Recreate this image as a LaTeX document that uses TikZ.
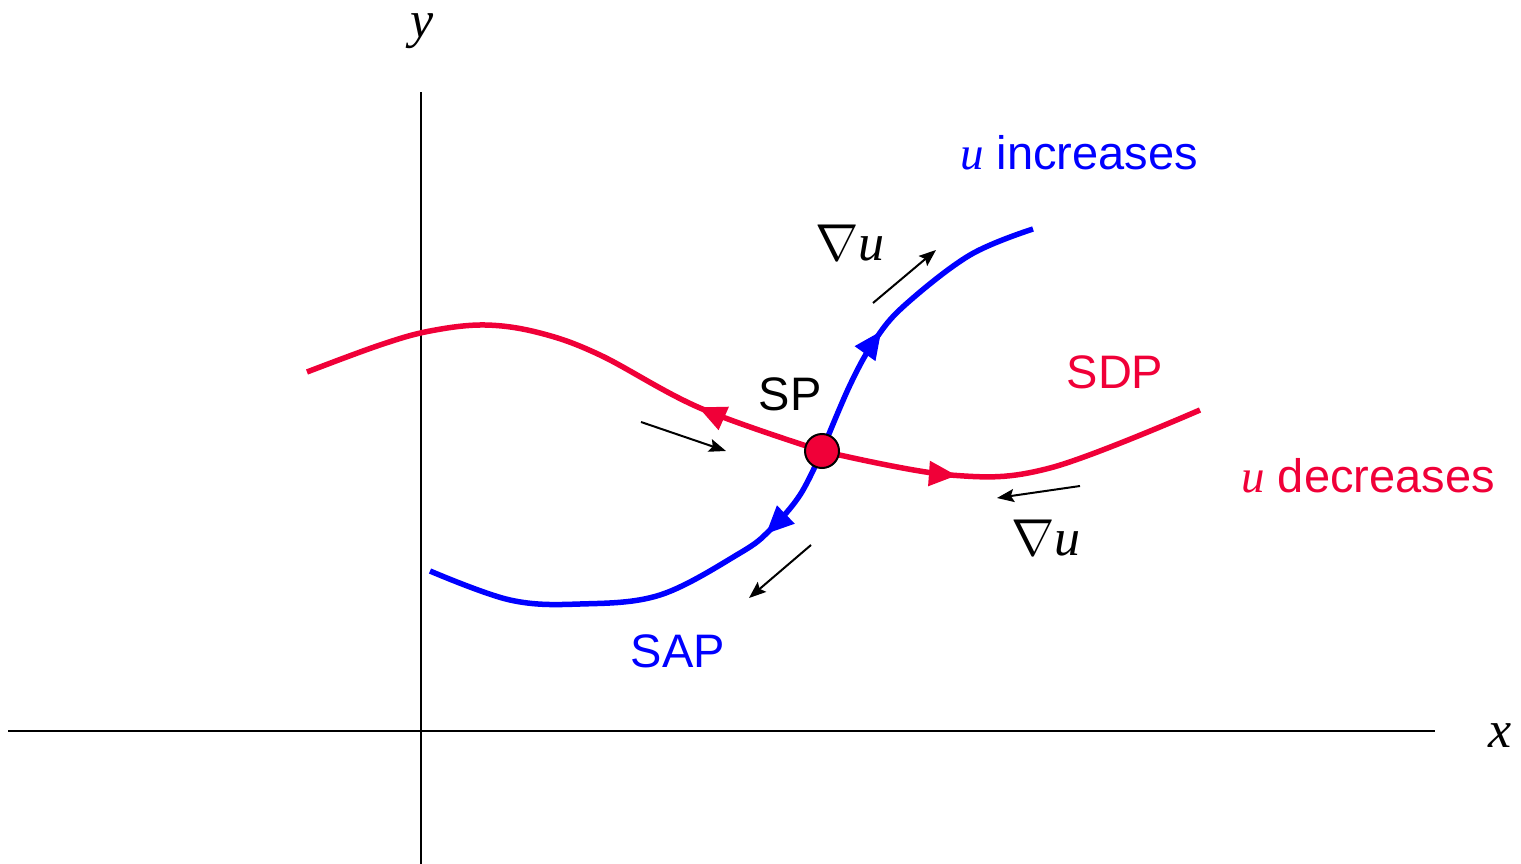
\RequirePackage{fix-cm}
\documentclass[tikz,border=0pt]{standalone}
\usepackage{fontspec}
\setmainfont{Liberation Sans}
\newfontfamily\tmsfont{Liberation Serif}
\usetikzlibrary{arrows.meta, decorations.markings}
\definecolor{sdpred}{RGB}{240,0,56}
\newcommand{\uvar}{{\tmsfont\itshape u}}

\begin{document}
\begin{tikzpicture}[
    x=1pt, y=-1pt,
    axis/.style={line width=2pt},
    curve/.style={line width=5.5pt, line join=round},
    tipmark/.style={decoration={markings, mark=at position #1 with {\arrow{Triangle[length=28pt,width=24pt]}}}, postaction=decorate},
    grad/.style={-{Stealth[length=17pt,width=13pt,inset=3pt]}, line width=2pt},
    lbl/.style={font=\fontsize{47}{50}\selectfont, inner sep=0pt, anchor=base},
    mlbl/.style={font=\fontsize{52}{56}\selectfont, inner sep=0pt, anchor=base},
]
\useasboundingbox (0,0) rectangle (1521,864);

% axes
\coordinate (ybot) at (421,864);
\coordinate (ytop) at (421,92);
\coordinate (xleft) at (8,731);
\coordinate (xright) at (1435,731);
\draw[axis] (ybot) -- (ytop);
\draw[axis] (xleft) -- (xright);
\node[mlbl] (ylab) at (422,38) {\tmsfont\itshape y};
\node[mlbl] (xlab) at (1500,747) {\tmsfont\itshape x};

% saddle point
\coordinate (spc) at (822,451);

% steepest descent path
\draw[curve, sdpred, tipmark=0.24] plot[smooth, tension=0.6] coordinates
  {(spc) (700,408) (600,355) (540,333) (485,325) (430,331) (380,345) (307,372)};
\draw[curve, sdpred, tipmark=0.35] plot[smooth, tension=0.6] coordinates
  {(spc) (950,475) (1050,468) (1200,410)};

% steepest ascent path
\draw[curve, blue, tipmark=0.22] plot[smooth, tension=0.6] coordinates
  {(spc) (800,495) (770,530) (740,553) (660,595) (580,604) (510,600) (430,571)};
\draw[curve, blue, tipmark=0.42] plot[smooth, tension=0.6] coordinates
  {(spc) (850,385) (875,340) (905,305) (970,255) (1033,229)};

\node[circle, draw=black, fill=sdpred, line width=2pt, minimum size=34pt, inner sep=0pt] (sp) at (spc) {};

% gradient arrows
\coordinate (g1a) at (873,303);  \coordinate (g1b) at (936,250);
\coordinate (g2a) at (641,422);  \coordinate (g2b) at (726,451);
\coordinate (g3a) at (1080,486); \coordinate (g3b) at (997,498);
\coordinate (g4a) at (811,545);  \coordinate (g4b) at (749,598);
\draw[grad] (g1a) -- (g1b);
\draw[grad] (g2a) -- (g2b);
\draw[grad] (g3a) -- (g3b);
\draw[grad] (g4a) -- (g4b);

% labels
\node[lbl] (splab) at (790,410) {SP};
\node[lbl, sdpred] (sdplab) at (1115,388) {SDP};
\node[lbl, blue] (saplab) at (678,667) {SAP};
\node[lbl, blue] (inclab) at (1079,170) {\uvar\ increases};
\node[lbl, sdpred] (declab) at (1368,492) {\uvar\ decreases};
\node[mlbl] (gradup) at (850,260) {$\nabla$\uvar};
\node[mlbl] (graddn) at (1046,555) {$\nabla$\uvar};
\end{tikzpicture}
\end{document}
